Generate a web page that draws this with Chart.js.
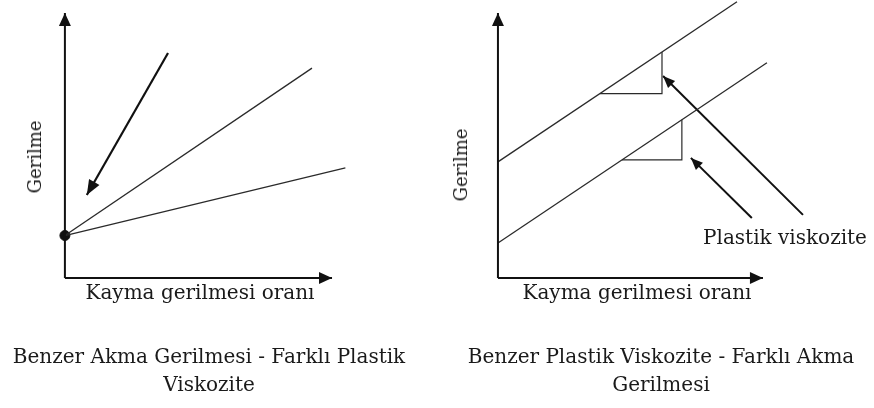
<!DOCTYPE html>
<html>
<head>
<meta charset="utf-8">
<script src="https://cdn.jsdelivr.net/npm/chart.js@4.4.0/dist/chart.umd.min.js"></script>
<style>
  html, body { margin: 0; padding: 0; background: #fff; }
  #wrap { position: relative; width: 874px; height: 408px; overflow: hidden; }
  .pane { position: absolute; top: 0; width: 437px; height: 408px; }
  .lbl { position: absolute; font-family: "DejaVu Serif", "Liberation Serif", serif;
         font-size: 20px; color: #1a1a1a; line-height: 1; white-space: nowrap;
         transform: translate(-50%, -50%); }
  .ytitle { font-size: 18px; }
  .rot { transform: translate(-50%, -50%) rotate(-90deg); }
</style>
</head>
<body>
<div id="wrap">
  <div class="pane" style="left:0"><canvas id="leftChart"></canvas></div>
  <div class="pane" style="left:437px"><canvas id="rightChart"></canvas></div>

  <div class="lbl ytitle rot" style="left:35px; top:157px">Gerilme</div>
  <div class="lbl" style="left:200px; top:292px">Kayma gerilmesi oranı</div>
  <div class="lbl" style="left:209px; top:356px">Benzer Akma Gerilmesi - Farklı Plastik</div>
  <div class="lbl" style="left:209px; top:384px">Viskozite</div>

  <div class="lbl ytitle rot" style="left:461px; top:165px">Gerilme</div>
  <div class="lbl" style="left:637px; top:292px">Kayma gerilmesi oranı</div>
  <div class="lbl" style="left:785px; top:237px">Plastik viskozite</div>
  <div class="lbl" style="left:661px; top:356px">Benzer Plastik Viskozite - Farklı Akma</div>
  <div class="lbl" style="left:661px; top:384px">Gerilmesi</div>
</div>

<script>
// ---------- data (schematic units, origin at the axes corner) ----------
const axisLength = 10;

// left: same yield stress, different plastic viscosity
const leftYieldStress = 1.6;
const leftLineEndsX = [9.25, 10.5];
const leftLineEndsY = [7.92, 4.15];
const leftPointerFrom = [3.86, 8.49];
const leftPointerTo = [0.82, 3.13];

// right: same plastic viscosity, different yield stress
const rightIntercepts = [4.38, 1.32];
const rightLineEndsX = [9.02, 10.15];
const rightSlope = 0.67;
const triangleStartX = [3.85, 4.68];
const triangleEndX = [6.19, 6.94];
const rightPointersFrom = [[11.51, 2.38], [9.58, 2.26]];
const rightPointersTo = [[6.23, 7.62], [7.28, 4.53]];

// ---------- helpers ----------
const INK = "#111";
const LINE = "#2a2a2a";

function seg(points, opts = {}) {
  return {
    data: points.map(p => ({ x: p[0], y: p[1] })),
    showLine: true,
    borderColor: opts.color || LINE,
    borderWidth: opts.width || 1.3,
    pointRadius: 0,
    tension: 0,
    arrow: opts.arrow || null
  };
}

function axes() {
  return [
    seg([[0, 0], [0, axisLength]], { color: INK, width: 2, arrow: { len: 13, half: 6 } }),
    seg([[0, 0], [axisLength, 0]], { color: INK, width: 2, arrow: { len: 13, half: 6 } })
  ];
}

// draws a filled arrowhead at the last point of datasets that ask for one
const arrowHeads = {
  id: "arrowHeads",
  afterDatasetsDraw(chart) {
    const ctx = chart.ctx;
    chart.data.datasets.forEach((ds, i) => {
      if (!ds.arrow) return;
      const pts = chart.getDatasetMeta(i).data;
      const a = pts[pts.length - 2], b = pts[pts.length - 1];
      const ang = Math.atan2(b.y - a.y, b.x - a.x);
      const { len, half } = ds.arrow;
      ctx.save();
      ctx.fillStyle = ds.borderColor;
      ctx.translate(b.x, b.y);
      ctx.rotate(ang);
      ctx.beginPath();
      ctx.moveTo(0, 0);
      ctx.lineTo(-len, -half);
      ctx.lineTo(-len, half);
      ctx.closePath();
      ctx.fill();
      ctx.restore();
    });
  }
};

function makePanel(id, xMin, xMax, datasets) {
  const canvas = document.getElementById(id);
  return new Chart(canvas, {
    type: "scatter",
    data: { datasets },
    options: {
      responsive: true,
      maintainAspectRatio: false,
      animation: false,
      events: [],
      layout: { padding: 0, autoPadding: false },
      plugins: { legend: { display: false }, tooltip: { enabled: false } },
      scales: {
        x: { type: "linear", display: false, min: xMin, max: xMax },
        y: { type: "linear", display: false, min: -4.91, max: 10.49 }
      }
    },
    plugins: [arrowHeads]
  });
}

// ---------- left panel ----------
const leftSets = axes();
leftLineEndsX.forEach((x, i) => {
  leftSets.push(seg([[0, leftYieldStress], [x, leftLineEndsY[i]]]));
});
leftSets.push(seg([leftPointerFrom, leftPointerTo], { color: INK, width: 2.2, arrow: { len: 15, half: 6 } }));
leftSets.push({
  data: [{ x: 0, y: leftYieldStress }],
  pointRadius: 5,
  pointBackgroundColor: INK,
  pointBorderColor: INK,
  showLine: false
});
makePanel("leftChart", -2.43, 13.93, leftSets);

// ---------- right panel ----------
const rightSets = axes();
rightIntercepts.forEach((b, i) => {
  const xe = rightLineEndsX[i];
  rightSets.push(seg([[0, b], [xe, b + rightSlope * xe]]));
  const x0 = triangleStartX[i], x1 = triangleEndX[i];
  const yBase = b + rightSlope * x0;
  rightSets.push(seg([[x0, yBase], [x1, yBase], [x1, b + rightSlope * x1]], { width: 1.2 }));
});
rightPointersFrom.forEach((from, i) => {
  rightSets.push(seg([from, rightPointersTo[i]], { color: INK, width: 2, arrow: { len: 12, half: 5 } }));
});
makePanel("rightChart", -2.30, 14.19, rightSets);
</script>
</body>
</html>
